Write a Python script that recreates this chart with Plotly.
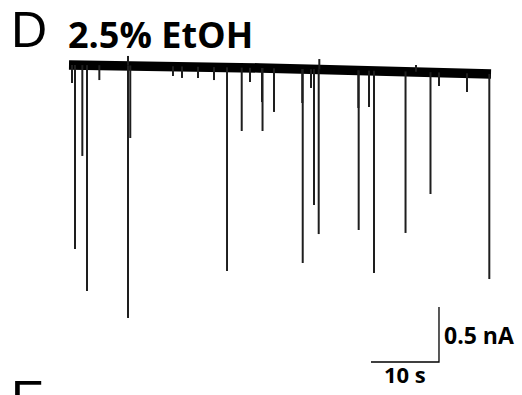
import numpy as np
import plotly.graph_objects as go

# Holding-current baseline of the recording (time s, current nA)
base_t = [0.0, 8.7, 19.3, 28.1, 36.9, 48.7, 62.06]
base_i = [-0.018, -0.022, -0.035, -0.045, -0.059, -0.075, -0.100]

# Inward current events: time (s) and peak current (nA)
event_t = [0.44, 0.88, 1.96, 2.65, 4.46, 8.68, 9.01, 15.29, 16.62, 18.97,
           21.32, 23.24, 25.40, 26.62, 28.38, 28.46, 30.15, 34.30, 34.37,
           35.59, 36.03, 36.72, 42.55, 42.60, 44.12, 44.85, 49.49, 53.16,
           54.41, 58.53, 61.81]
event_i = [-0.182, -1.691, -0.845, -2.073, -0.155, -2.318, -0.682, -0.118,
           -0.136, -0.136, -0.155, -1.891, -0.618, -0.173, -0.355, -0.618,
           -0.445, -0.364, -1.818, -0.227, -1.291, -1.555, -0.409, -1.518,
           -0.400, -1.909, -1.545, -1.191, -0.209, -0.264, -1.964]

# Brief outward deflections
up_t = [8.68, 36.81, 51.03]
up_i = [0.064, 0.036, -0.018]

# Scale bar (10 s, 0.5 nA)
bar_t, bar_i = 10, 0.5
bar_corner = (54.41, -2.718)

# Pixel geometry of the canvas
W, H = 522, 395
PX_PER_S, PX_PER_NA = 6.8, 110.0
X0, Y0 = 69, 63
x_range = [-X0 / PX_PER_S, (W - X0) / PX_PER_S]
y_range = [(Y0 - H) / PX_PER_NA, Y0 / PX_PER_NA]

fig = go.Figure()

# Noisy baseline band
fig.add_trace(go.Scatter(x=base_t, y=base_i, mode="lines",
                         line=dict(color="#000000", width=9.5),
                         hoverinfo="skip", showlegend=False))

# Event traces drawn as vertical deflections from the local baseline
sx, sy = [], []
for t, i in zip(event_t + up_t, event_i + up_i):
    b = float(np.interp(t, base_t, base_i))
    sx += [t, t, None]
    sy += [b, i, None]
fig.add_trace(go.Scatter(x=sx, y=sy, mode="lines",
                         line=dict(color="#1e1e1e", width=2),
                         hoverinfo="skip", showlegend=False))

# Scale bar
cx, cy = bar_corner
fig.add_trace(go.Scatter(x=[cx - bar_t, cx, cx], y=[cy, cy, cy + bar_i],
                         mode="lines", line=dict(color="#000000", width=1.3),
                         hoverinfo="skip", showlegend=False))

fig.add_annotation(x=cx + 0.5, y=cy + bar_i / 2 - 0.008, xref="x", yref="y",
                   text="<b>%g nA</b>" % bar_i, showarrow=False,
                   xanchor="left", yanchor="middle",
                   font=dict(family="Open Sans", size=23, color="#000000"))
fig.add_annotation(x=cx - bar_t / 2, y=cy + 0.045, xref="x", yref="y",
                   text="<b>%g s</b>" % bar_t, showarrow=False,
                   xanchor="center", yanchor="top",
                   font=dict(family="Open Sans", size=22, color="#000000"))

# Panel letters and title
fig.add_annotation(x=9 / W, y=1.0, xref="paper", yref="paper",
                   text="D", showarrow=False, xanchor="left", yanchor="top",
                   font=dict(family="Liberation Sans", size=50,
                             color="#000000"))
fig.add_annotation(x=66 / W, y=1 - 8 / H, xref="paper", yref="paper",
                   text="<b>2.5% EtOH</b>", showarrow=False,
                   xanchor="left", yanchor="top",
                   font=dict(family="Open Sans", size=36, color="#000000"))
fig.add_annotation(x=9 / W, y=1 - 369 / H, xref="paper", yref="paper",
                   text="E", showarrow=False, xanchor="left", yanchor="top",
                   font=dict(family="Liberation Sans", size=50,
                             color="#000000"))

fig.update_xaxes(range=x_range, visible=False, fixedrange=True)
fig.update_yaxes(range=y_range, visible=False, fixedrange=True)
fig.update_layout(width=W, height=H, margin=dict(l=0, r=0, t=0, b=0),
                  paper_bgcolor="white", plot_bgcolor="white")

fig.write_html("out.html", config={"displayModeBar": False})
